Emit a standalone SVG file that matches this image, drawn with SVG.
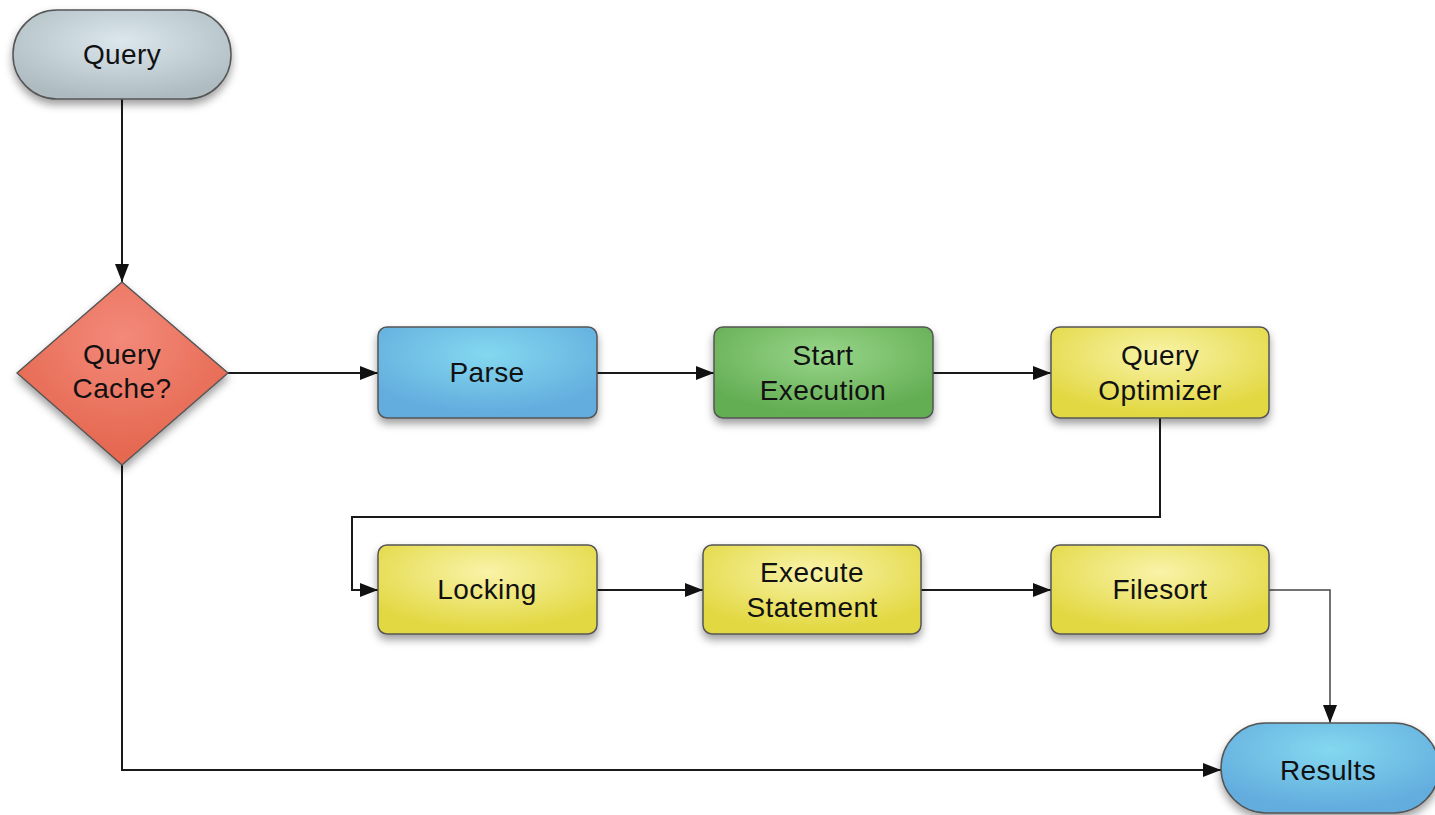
<svg xmlns="http://www.w3.org/2000/svg" width="1435" height="815" viewBox="0 0 1435 815">
<defs>
<radialGradient id="gGray" cx="50%" cy="35%" r="65%"><stop offset="0" stop-color="#dbe7ed"/><stop offset="1" stop-color="#aebcc2"/></radialGradient>
<radialGradient id="gRed" cx="50%" cy="30%" r="65%"><stop offset="0" stop-color="#f3897a"/><stop offset="1" stop-color="#e5674f"/></radialGradient>
<radialGradient id="gBlue" cx="50%" cy="30%" r="65%"><stop offset="0" stop-color="#84d8ef"/><stop offset="1" stop-color="#62acde"/></radialGradient>
<radialGradient id="gGreen" cx="50%" cy="30%" r="65%"><stop offset="0" stop-color="#98d58a"/><stop offset="1" stop-color="#63ad52"/></radialGradient>
<radialGradient id="gYellow" cx="50%" cy="30%" r="65%"><stop offset="0" stop-color="#f9f3a8"/><stop offset="1" stop-color="#e2d842"/></radialGradient>
<filter id="sh" x="-10%" y="-10%" width="120%" height="135%"><feDropShadow dx="0" dy="5" stdDeviation="4" flood-color="#000" flood-opacity="0.38"/></filter>
<marker id="ahBig" viewBox="0 0 10 10" refX="10" refY="5" markerWidth="18" markerHeight="14" markerUnits="userSpaceOnUse" orient="auto" preserveAspectRatio="none"><path d="M0,0 L10,5 L0,10 z" fill="#111"/></marker>
</defs>
<style>
.node{stroke:#555;stroke-width:1.5;filter:url(#sh)}
.lbl{font-family:"Liberation Sans",Arial,sans-serif;font-size:28px;letter-spacing:0.4px;fill:#111;text-anchor:middle}
.conn{fill:none;stroke:#1a1a1a;stroke-width:2}
.thin{fill:none;stroke:#444;stroke-width:1.5}
</style>
<rect width="1435" height="815" fill="#ffffff"/>
<g id="connectors">
<path class="conn" d="M122,99 L122,282" marker-end="url(#ahBig)"/>
<path class="conn" d="M228,373 L378,373" marker-end="url(#ahBig)"/>
<path class="conn" d="M597,373 L714,373" marker-end="url(#ahBig)"/>
<path class="conn" d="M933,373 L1051,373" marker-end="url(#ahBig)"/>
<path class="conn" d="M1160,418 L1160,517 L352,517 L352,590 L378,590" marker-end="url(#ahBig)"/>
<path class="conn" d="M597,590 L703,590" marker-end="url(#ahBig)"/>
<path class="conn" d="M921,590 L1051,590" marker-end="url(#ahBig)"/>
<path class="thin" d="M1269,590 L1330,590 L1330,723" marker-end="url(#ahBig)"/>
<path class="conn" d="M122,465 L122,770 L1221,770" marker-end="url(#ahBig)"/>
</g>
<g id="query">
<rect class="node" x="13" y="10" width="218" height="89" rx="44" ry="44" fill="url(#gGray)"/>
<text class="lbl" x="122" y="64">Query</text>
</g>
<g id="cache">
<path class="node" d="M122,282 L228,373 L122,465 L17,373 Z" stroke-linejoin="round" fill="url(#gRed)"/>
<text class="lbl" x="122" y="364">Query</text>
<text class="lbl" x="122" y="398">Cache?</text>
</g>
<g id="parse">
<rect class="node" x="378" y="327" width="219" height="91" rx="9" fill="url(#gBlue)"/>
<text class="lbl" x="487" y="382">Parse</text>
</g>
<g id="start">
<rect class="node" x="714" y="327" width="219" height="91" rx="9" fill="url(#gGreen)"/>
<text class="lbl" x="823" y="365">Start</text>
<text class="lbl" x="823" y="400">Execution</text>
</g>
<g id="optimizer">
<rect class="node" x="1051" y="327" width="218" height="91" rx="9" fill="url(#gYellow)"/>
<text class="lbl" x="1160" y="365">Query</text>
<text class="lbl" x="1160" y="400">Optimizer</text>
</g>
<g id="locking">
<rect class="node" x="378" y="545" width="219" height="89" rx="9" fill="url(#gYellow)"/>
<text class="lbl" x="487" y="599">Locking</text>
</g>
<g id="execute">
<rect class="node" x="703" y="545" width="218" height="89" rx="9" fill="url(#gYellow)"/>
<text class="lbl" x="812" y="582">Execute</text>
<text class="lbl" x="812" y="617">Statement</text>
</g>
<g id="filesort">
<rect class="node" x="1051" y="545" width="218" height="89" rx="9" fill="url(#gYellow)"/>
<text class="lbl" x="1160" y="599">Filesort</text>
</g>
<g id="results">
<rect class="node" x="1221" y="723" width="218" height="90" rx="45" ry="45" fill="url(#gBlue)"/>
<text class="lbl" x="1328" y="780">Results</text>
</g>
</svg>
